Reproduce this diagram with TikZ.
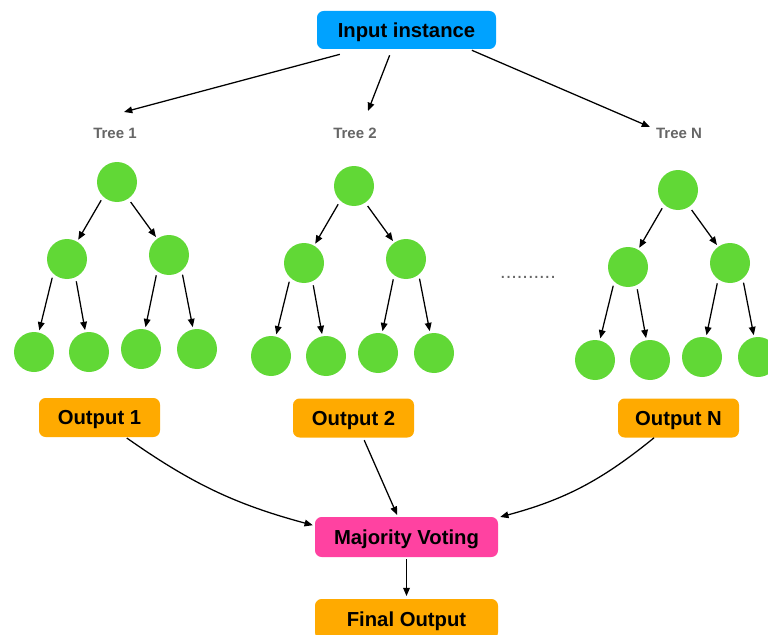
\documentclass[tikz,border=0pt]{standalone}
\usepackage{fontspec}
\setmainfont{Liberation Sans}
\usetikzlibrary{arrows.meta}
\definecolor{inblue}{RGB}{0,162,255}
\definecolor{leafgreen}{RGB}{97,216,54}
\definecolor{outorange}{RGB}{255,170,0}
\definecolor{votepink}{RGB}{255,66,161}
\definecolor{labelgray}{RGB}{102,102,102}
\begin{document}
\begin{tikzpicture}[x=0.75pt,y=-0.75pt,
  box/.style={rounded corners=5pt, inner sep=0pt, text=black,
    text height=10.9pt, text depth=0pt,
    font=\fontsize{15.2pt}{18pt}\selectfont\bfseries},
  inbox/.style={box, fill=inblue, minimum width=134.25pt, minimum height=28.5pt},
  outbox/.style={box, fill=outorange, minimum width=90.75pt, minimum height=29.25pt},
  votebox/.style={box, fill=votepink, minimum width=137.25pt, minimum height=30pt},
  finalbox/.style={box, fill=outorange, minimum width=137.25pt, minimum height=30pt},
  treenode/.style={circle, fill=leafgreen, minimum size=30pt, inner sep=0pt},
  treelabel/.style={text=labelgray, inner sep=0pt,
    font=\fontsize{11.25pt}{13pt}\selectfont\bfseries},
  arr/.style={draw=black, line width=0.95pt, -{Triangle[length=6.2pt,width=5pt]}},
  treeedge/.style={arr, shorten <=3pt, shorten >=1.5pt}
]
\clip (0,0) rectangle (768,635);

% input node and the tree labels it feeds
\node[inbox] (in) at (406.5,30) {Input instance};
\node[treelabel] (ta) at (115,133) {Tree 1};
\node[treelabel] (tb) at (355,133) {Tree 2};
\node[treelabel] (tn) at (679,133) {Tree N};
\coordinate (ca) at (124,112);
\coordinate (cb) at (368,111);
\coordinate (cn) at (650,127);
\draw[arr, shorten <=14.7pt] (in.202.7) -- (ca);
\draw[arr, shorten <=4.8pt] (in.233.4) -- (cb);
\draw[arr, shorten <=1.9pt] (in.343.3) -- (cn);

% three binary trees of depth two
\foreach \t/\x/\y in {a/117/182, b/354/186, n/678/190} {
  \node[treenode] (\t0) at (\x,\y) {};
  \node[treenode] (\t1) at (\x-50,\y+77) {};
  \node[treenode] (\t2) at (\x+52,\y+73) {};
  \node[treenode] (\t3) at (\x-83,\y+170) {};
  \node[treenode] (\t4) at (\x-28,\y+170) {};
  \node[treenode] (\t5) at (\x+24,\y+167) {};
  \node[treenode] (\t6) at (\x+80,\y+167) {};
  \draw[treeedge] (\t0.227) -- (\t1);
  \draw[treeedge] (\t0.304) -- (\t2);
  \draw[treeedge] (\t1.227) -- (\t3);
  \draw[treeedge] (\t1.295) -- (\t4);
  \draw[treeedge] (\t2.234) -- (\t5);
  \draw[treeedge] (\t2.309) -- (\t6);
}

% ellipsis between the second and the last tree
\node[anchor=base, inner sep=0pt, text=labelgray,
  font=\fontsize{15pt}{18pt}\selectfont] (dots) at (528,278) {..........};

% per-tree outputs and the vote
\node[outbox] (oa) at (99.5,417.5) {Output 1};
\node[outbox] (ob) at (353.5,418) {Output 2};
\node[outbox] (on) at (678.5,418) {Output N};
\node[votebox] (mv) at (406.5,537) {Majority Voting};
\node[finalbox] (fin) at (406.5,619) {Final Output};

\draw[arr, shorten <=1pt, shorten >=1.5pt] (oa.-37.4) to[bend right=10] (mv.173);
\draw[arr, shorten <=2pt, shorten >=1.5pt] (ob.-64) -- (mv.113);
\draw[arr, shorten >=1.5pt] (on.219) to[bend left=12] (mv.12);
\draw[arr, shorten <=1.5pt, shorten >=2pt] (mv) -- (fin);
\end{tikzpicture}
\end{document}
